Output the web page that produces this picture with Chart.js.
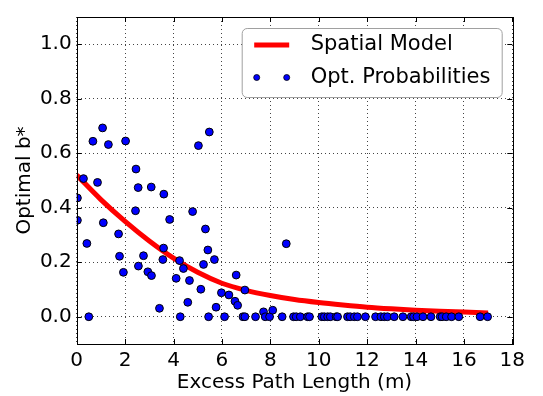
<!DOCTYPE html>
<html>
<head>
<meta charset="utf-8">
<script src="https://cdn.jsdelivr.net/npm/chart.js@4.4.0/dist/chart.umd.min.js"></script>
<style>
  html, body { margin: 0; padding: 0; background: #fff; }
  #chart { display: block; }
</style>
</head>
<body>
<canvas id="chart" width="543" height="396"></canvas>
<script>
const xTicks = [0, 2, 4, 6, 8, 10, 12, 14, 16, 18];
const yTicks = [0, 0.2, 0.4, 0.6, 0.8, 1.0];

// scatter: optimal probabilities
const probX = [
  0.03, 0.03, 0.28, 0.42, 0.50, 0.67, 0.86, 1.07, 1.10, 1.31,
  1.73, 1.77, 1.93, 2.02, 2.43, 2.45, 2.54, 2.55, 2.76, 2.94,
  3.08, 3.09, 3.42, 3.56, 3.59, 3.60, 3.84, 4.11, 4.25, 4.28,
  4.41, 4.59, 4.66, 4.79, 5.03, 5.13, 5.24, 5.32, 5.42, 5.45,
  5.48, 5.69, 5.76, 5.98, 6.11, 6.29, 6.54, 6.59, 6.65, 6.87,
  6.95, 6.95, 7.39, 7.72, 7.79, 7.97, 8.10, 8.49, 8.66,
  8.96, 9.07, 9.24, 9.54, 9.62, 10.13, 10.23, 10.37, 10.48, 10.72,
  10.78, 11.19, 11.30, 11.47, 11.60, 11.93, 12.35, 12.57, 12.71, 12.84,
  13.12, 13.48, 13.82, 13.92, 14.06, 14.31, 14.64, 15.02, 15.10, 15.27,
  15.49, 15.79, 16.67, 16.98
];
const probY = [
  0.436, 0.354, 0.507, 0.269, 0.000, 0.644, 0.493, 0.693, 0.345, 0.632,
  0.304, 0.222, 0.163, 0.645, 0.389, 0.542, 0.474, 0.186, 0.224, 0.165,
  0.476, 0.151, 0.031, 0.210, 0.252, 0.450, 0.357, 0.141, 0.206, 0.000,
  0.177, 0.053, 0.133, 0.386, 0.628, 0.101, 0.192, 0.322, 0.245, 0.000,
  0.678, 0.210, 0.035, 0.088, 0.000, 0.080, 0.057, 0.153, 0.042, 0.000,
  0.098, 0.000, 0.000, 0.018, 0.000, 0.000, 0.024, 0.000, 0.268,
  0, 0, 0, 0, 0, 0, 0, 0, 0, 0,
  0, 0, 0, 0, 0, 0, 0, 0, 0, 0,
  0, 0, 0, 0, 0, 0, 0, 0, 0, 0,
  0, 0, 0, 0
];

// spatial model curve, read at whole metres
const modelX = [0, 1, 2, 3, 4, 5, 6, 7, 8, 9, 10, 11, 12, 13, 14, 15, 16, 17];
const modelY = [0.520, 0.430, 0.350, 0.278, 0.215, 0.163, 0.123, 0.097, 0.078, 0.063,
                0.052, 0.043, 0.035, 0.029, 0.024, 0.020, 0.017, 0.014];

const FONT = 'DejaVu Sans';

// frame + inward tick marks like matplotlib classic
const framePlugin = {
  id: 'frame',
  afterDatasetsDraw(chart) {
    const { ctx, chartArea: a, scales } = chart;
    ctx.save();
    ctx.strokeStyle = '#000';
    ctx.lineWidth = 1;
    ctx.beginPath();
    xTicks.forEach(v => {
      const px = Math.round(scales.x.getPixelForValue(v)) + 0.5;
      ctx.moveTo(px, a.bottom); ctx.lineTo(px, a.bottom - 5);
      ctx.moveTo(px, a.top); ctx.lineTo(px, a.top + 5);
    });
    yTicks.forEach(v => {
      const py = Math.round(scales.y.getPixelForValue(v)) + 0.5;
      ctx.moveTo(a.left, py); ctx.lineTo(a.left + 5, py);
      ctx.moveTo(a.right, py); ctx.lineTo(a.right - 5, py);
    });
    ctx.stroke();
    ctx.strokeRect(Math.round(a.left) + 0.5, Math.round(a.top) + 0.5,
                   Math.round(a.right - a.left), Math.round(a.bottom - a.top));
    ctx.restore();
  },
  afterDraw(chart) {
    const { ctx, chartArea: a } = chart;
    const w = 260, h = 69;
    const left = a.right - 10.6 - w, top = a.top + 11;
    ctx.save();
    ctx.beginPath();
    ctx.roundRect(left + 0.5, top + 0.5, w, h, 5);
    ctx.fillStyle = '#fff';
    ctx.fill();
    ctx.strokeStyle = '#a0a0a0';
    ctx.lineWidth = 1;
    ctx.stroke();

    const row1 = top + 17, row2 = top + 49.5;
    ctx.strokeStyle = '#ff0000';
    ctx.lineWidth = 5;
    ctx.beginPath();
    ctx.moveTo(left + 12.5, row1); ctx.lineTo(left + 47.5, row1);
    ctx.stroke();

    ctx.fillStyle = '#0000ff';
    ctx.strokeStyle = '#000';
    ctx.lineWidth = 0.8;
    [left + 15, left + 45].forEach(cx => {
      ctx.beginPath();
      ctx.arc(cx, row2, 3, 0, Math.PI * 2);
      ctx.fill(); ctx.stroke();
    });

    ctx.fillStyle = '#000';
    ctx.font = '21px "' + FONT + '"';
    ctx.textBaseline = 'middle';
    ctx.textAlign = 'left';
    ctx.fillText('Spatial Model', left + 69, row1);
    ctx.fillText('Opt. Probabilities', left + 69, row2);
    ctx.restore();
  }
};

const gridOpts = { color: '#444', lineWidth: 1, drawTicks: false };

new Chart(document.getElementById('chart'), {
  type: 'scatter',
  data: {
    datasets: [
      {
        label: 'Opt. Probabilities',
        data: probX.map((x, i) => ({ x, y: probY[i] })),
        backgroundColor: '#0000ff',
        borderColor: '#000',
        borderWidth: 1,
        pointRadius: 3.9,
        order: 0,
      },
      {
        label: 'Spatial Model',
        type: 'line',
        data: modelX.map((x, i) => ({ x, y: modelY[i] })),
        borderColor: '#ff0000',
        borderWidth: 5,
        pointRadius: 0,
        cubicInterpolationMode: 'monotone',
        fill: false,
        order: 1,
      },
    ],
  },
  options: {
    responsive: false,
    animation: false,
    layout: { padding: { left: 0, right: 30.7, top: 6, bottom: 0 } },
    plugins: { legend: { display: false }, tooltip: { enabled: false } },
    scales: {
      x: {
        type: 'linear', min: 0, max: 18,
        afterBuildTicks: s => { s.ticks = xTicks.map(v => ({ value: v })); },
        afterFit: s => { s.height = 52; },
        grid: gridOpts,
        border: { display: false, dash: [1, 3] },
        ticks: { color: '#000', padding: 5, font: { family: FONT, size: 20 }, callback: v => String(v) },
        title: { display: true, text: 'Excess Path Length (m)', color: '#000',
                 font: { family: FONT, size: 20 }, padding: { top: 0, bottom: 1 } },
      },
      y: {
        type: 'linear', min: -0.1, max: 1.1,
        afterBuildTicks: s => { s.ticks = yTicks.map(v => ({ value: v })); },
        afterFit: s => { s.width = 76.7; },
        grid: gridOpts,
        border: { display: false, dash: [1, 3] },
        ticks: { color: '#000', padding: 5, font: { family: FONT, size: 20 }, callback: v => v.toFixed(1) },
        title: { display: true, text: 'Optimal b*', color: '#000',
                 font: { family: FONT, size: 20 }, padding: { top: 13, bottom: 0 } },
      },
    },
  },
  plugins: [framePlugin],
});
</script>
</body>
</html>
